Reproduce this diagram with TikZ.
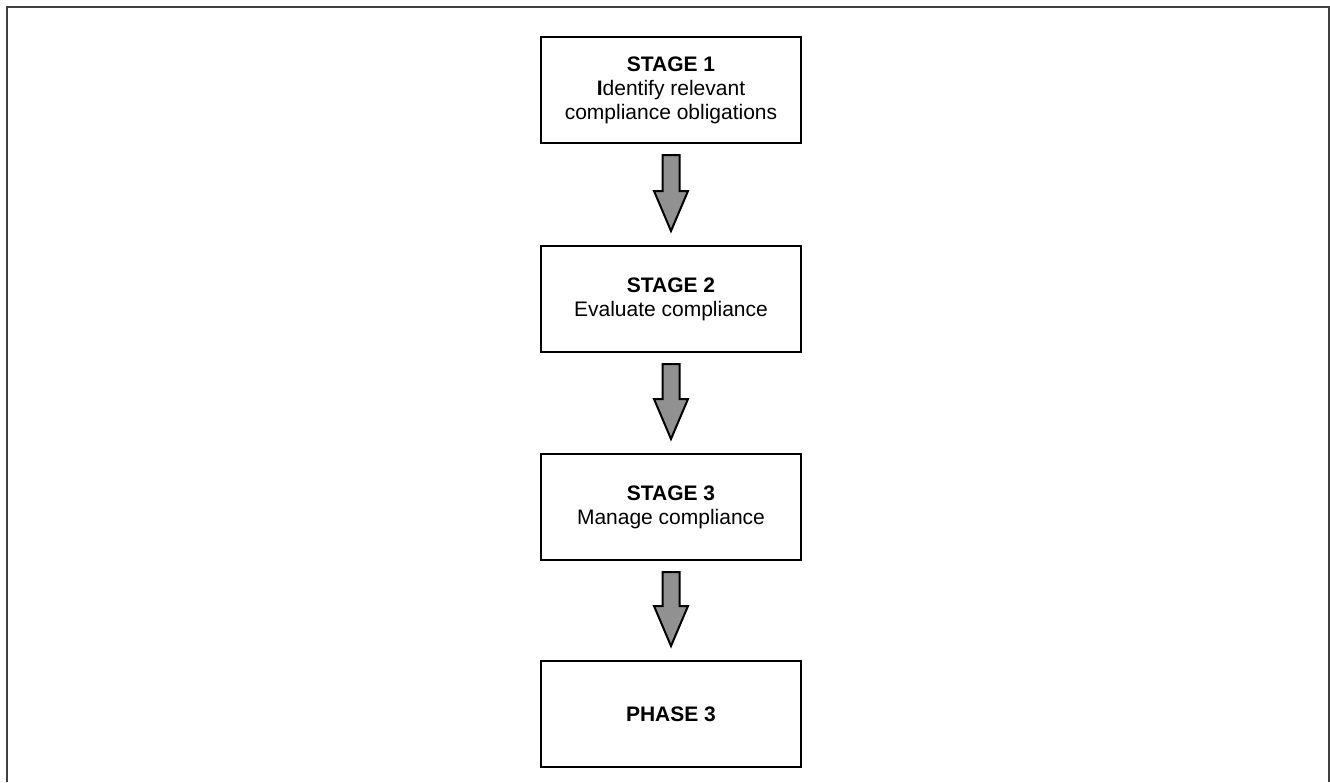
\documentclass[tikz,border=0pt]{standalone}
\usepackage{fontspec}
\setmainfont{Liberation Sans}
\usetikzlibrary{calc}
\begin{document}
\begin{tikzpicture}[x=1pt,y=-1pt,
  stagebox/.style={draw=black,line width=2pt,fill=white,minimum width=260pt,minimum height=106pt,align=center,inner sep=0pt,font=\fontsize{21pt}{24pt}\selectfont},
  flowarrow/.style={draw=black,line width=2pt,fill=black!43,line join=miter}]
\useasboundingbox (0,0) rectangle (1330,782);
\draw[line width=1.5pt,black!75] (7,782) -- (7,7) -- (1329,7) -- (1329,782);
\node[stagebox] (s1) at (671,90) {\textbf{STAGE 1}\\\textbf{I}dentify relevant\\compliance obligations};
\node[stagebox] (s2) at (671,299) {\textbf{STAGE 2}\\Evaluate compliance};
\node[stagebox] (s3) at (671,507) {\textbf{STAGE 3}\\Manage compliance};
\node[stagebox] (s4) at (671,714) {\textbf{PHASE 3}};
\foreach \a/\b in {s1/s2,s2/s3,s3/s4}{
  \path (\a.south) ++(0,11) coordinate (t) (\b.north) ++(0,-14) coordinate (h);
  \draw[flowarrow] let \p1=(t), \p2=(h) in
    (\x1-8.5,\y1) -- (\x1+8.5,\y1) -- (\x1+8.5,\y2+40) -- (\x1+17,\y2+40) -- (\x2,\y2) -- (\x1-17,\y2+40) -- (\x1-8.5,\y2+40) -- cycle;
}
\end{tikzpicture}
\end{document}
